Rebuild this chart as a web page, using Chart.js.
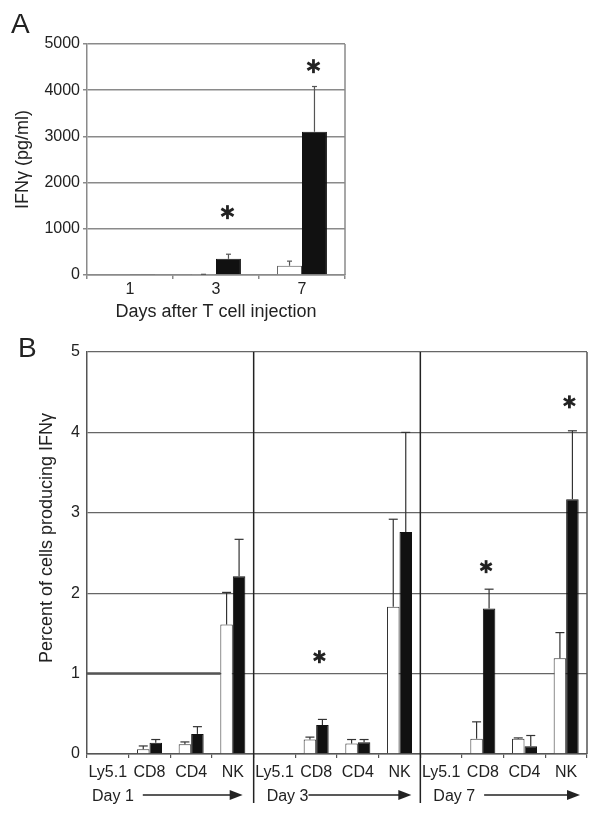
<!DOCTYPE html>
<html>
<head>
<meta charset="utf-8">
<script src="https://cdn.jsdelivr.net/npm/chart.js@4.4.0/dist/chart.umd.min.js"></script>
<style>
  body { margin: 0; background: #fff; }
  #wrap { position: relative; width: 604px; height: 819px; }
  canvas { position: absolute; left: 0; }
  #chartA { top: 0; }
  #chartB { top: 330px; }
</style>
</head>
<body>
<div id="wrap">
  <canvas id="chartA" width="604" height="330"></canvas>
  <canvas id="chartB" width="604" height="489"></canvas>
</div>
<script>
// Panel A: IFNy in serum (pg/ml)
const daysA = ["1", "3", "7"];
const controlA = [0, 10, 200];
const controlSdA = [0, 5, 100];
const treatedA = [10, 350, 3100];
const treatedSdA = [0, 100, 980];
const starsA = [null, 1360, 4520];

// Panel B: percent of cells producing IFNy
const cellTypes = ["Ly5.1", "CD8", "CD4", "NK"];
const dayGroups = ["Day 1", "Day 3", "Day 7"];
const labelsB = dayGroups.flatMap(() => cellTypes);
const controlB = [0, 0.06, 0.12, 1.61, 0, 0.18, 0.13, 1.83, 0, 0.19, 0.19, 1.19];
const controlSdB = [0, 0.04, 0.03, 0.40, 0, 0.03, 0.05, 1.09, 0, 0.21, 0.01, 0.32];
const treatedB = [0, 0.14, 0.25, 2.21, 0, 0.36, 0.145, 2.76, 0, 1.81, 0.095, 3.17];
const treatedSdB = [0, 0.04, 0.09, 0.46, 0, 0.07, 0.035, 1.24, 0, 0.24, 0.135, 0.85];
const starsB = [null, null, null, null, null, 1.21, null, null, null, 2.33, null, 4.38];

const FONT = "'Liberation Sans', Arial, sans-serif";
const TEXT = "#222";

function line(ctx, x1, y1, x2, y2) {
  ctx.beginPath();
  ctx.moveTo(x1, y1);
  ctx.lineTo(x2, y2);
  ctx.stroke();
}

function drawStar(ctx, x, y, r) {
  ctx.save();
  ctx.strokeStyle = TEXT;
  ctx.lineWidth = 2.8;
  for (let a = 90; a < 270; a += 60) {
    const t = a * Math.PI / 180;
    line(ctx, x - r * Math.cos(t), y - r * Math.sin(t), x + r * Math.cos(t), y + r * Math.sin(t));
  }
  ctx.restore();
}

// error bars, asterisks, panel letter, frame
const extras = {
  id: "extras",
  beforeDatasetsDraw(chart, args, opts) {
    if (opts.beforeBars) opts.beforeBars(chart);
  },
  afterDatasetsDraw(chart, args, opts) {
    const ctx = chart.ctx;
    const y = chart.scales.y;
    opts.errors.forEach((sd, di) => {
      const meta = chart.getDatasetMeta(di);
      const vals = chart.data.datasets[di].data;
      meta.data.forEach((bar, i) => {
        if (!sd[i]) return;
        const top = y.getPixelForValue(vals[i] + sd[i]);
        ctx.save();
        ctx.strokeStyle = opts.errColor;
        ctx.lineWidth = 1.2;
        line(ctx, bar.x, bar.y, bar.x, top);
        line(ctx, bar.x - opts.cap, top, bar.x + opts.cap, top);
        ctx.restore();
      });
    });
    const meta1 = chart.getDatasetMeta(1);
    opts.stars.forEach((v, i) => {
      if (v == null) return;
      drawStar(ctx, meta1.data[i].x + opts.starDx, y.getPixelForValue(v), opts.starR);
    });
  },
  afterDraw(chart, args, opts) {
    const ctx = chart.ctx;
    const area = chart.chartArea;
    ctx.save();
    ctx.strokeStyle = opts.frameColor;
    ctx.lineWidth = 1.5;
    line(ctx, area.right, area.top, area.right, area.bottom);
    ctx.fillStyle = TEXT;
    ctx.font = "28px " + FONT;
    ctx.textAlign = "left";
    ctx.textBaseline = "alphabetic";
    ctx.fillText(opts.letter, opts.letterX, opts.letterY);
    ctx.restore();
    if (opts.after) opts.after(chart);
  }
};

function arrow(ctx, x1, x2, y) {
  ctx.save();
  ctx.strokeStyle = TEXT;
  ctx.fillStyle = TEXT;
  ctx.lineWidth = 1.5;
  line(ctx, x1, y, x2 - 10, y);
  ctx.beginPath();
  ctx.moveTo(x2, y);
  ctx.lineTo(x2 - 13, y - 5);
  ctx.lineTo(x2 - 13, y + 5);
  ctx.closePath();
  ctx.fill();
  ctx.restore();
}

const chartA = new Chart(document.getElementById("chartA"), {
  type: "bar",
  data: {
    labels: daysA,
    datasets: [
      { data: controlA, backgroundColor: "#fff", borderColor: "#555", borderWidth: 1 },
      { data: treatedA, backgroundColor: "#111", borderColor: "#111", borderWidth: 1 }
    ]
  },
  options: {
    responsive: false,
    devicePixelRatio: 1,
    animation: false,
    categoryPercentage: 0.58,
    barPercentage: 1,
    layout: { padding: { left: 0, top: 44, right: 259, bottom: 0 } },
    plugins: {
      legend: { display: false },
      tooltip: { enabled: false },
      extras: {
        errors: [controlSdA, treatedSdA], errColor: "#555", cap: 2.5,
        stars: starsA, starDx: -1, starR: 7,
        frameColor: "#8a8a8a", letter: "A", letterX: 11, letterY: 33
      }
    },
    scales: {
      x: {
        afterFit: s => { s.height = 55; },
        grid: { drawOnChartArea: false, tickLength: 4, color: "#8a8a8a", lineWidth: 1.5 },
        border: { color: "#8a8a8a", width: 1.5 },
        ticks: { font: { family: FONT, size: 16 }, color: TEXT, padding: 1 },
        title: { display: true, text: "Days after T cell injection", font: { family: FONT, size: 18 }, color: TEXT, padding: { bottom: 7 } }
      },
      y: {
        min: 0, max: 5000,
        afterFit: s => { s.width = 87; },
        grid: { color: "#8a8a8a", lineWidth: 1.5, tickLength: 4 },
        border: { color: "#8a8a8a", width: 1.5 },
        ticks: { stepSize: 1000, font: { family: FONT, size: 16 }, color: TEXT, padding: 3, callback: v => String(v) },
        title: { display: true, text: "IFNγ (pg/ml)", font: { family: FONT, size: 18 }, color: TEXT, padding: { top: 12 } }
      }
    }
  },
  plugins: [extras]
});

const chartB = new Chart(document.getElementById("chartB"), {
  type: "bar",
  data: {
    labels: labelsB,
    datasets: [
      { data: controlB, backgroundColor: "#fff", borderColor: "#333", borderWidth: 1 },
      { data: treatedB, backgroundColor: "#111", borderColor: "#111", borderWidth: 1 }
    ]
  },
  options: {
    responsive: false,
    devicePixelRatio: 1,
    animation: false,
    categoryPercentage: 0.6,
    barPercentage: 1,
    layout: { padding: { left: 0, top: 22, right: 17, bottom: 0 } },
    plugins: {
      legend: { display: false },
      tooltip: { enabled: false },
      extras: {
        errors: [controlSdB, treatedSdB], errColor: "#333", cap: 4.5,
        stars: starsB, starDx: -3, starR: 6.5,
        frameColor: "#555", letter: "B", letterX: 18, letterY: 27,
        beforeBars(chart) {
          const ctx = chart.ctx;
          const y1 = chart.scales.y.getPixelForValue(1);
          const bar = chart.getDatasetMeta(0).data[3];
          ctx.save();
          ctx.strokeStyle = "#555";
          ctx.lineWidth = 2.5;
          line(ctx, chart.chartArea.left, y1, bar.x - bar.width / 2, y1);
          ctx.restore();
        },
        after(chart) {
          const ctx = chart.ctx;
          const x = chart.scales.x;
          const area = chart.chartArea;
          ctx.save();
          ctx.strokeStyle = TEXT;
          ctx.lineWidth = 1.5;
          [3.5, 7.5].forEach(v => {
            const px = x.getPixelForValue(v);
            line(ctx, px, area.top, px, 473);
          });
          ctx.font = "16px " + FONT;
          ctx.fillStyle = TEXT;
          ctx.textAlign = "left";
          ctx.textBaseline = "alphabetic";
          dayGroups.forEach((d, g) => {
            const left = x.getPixelForValue(g * 4 - 0.5);
            const right = x.getPixelForValue(g * 4 + 3.5);
            const tx = left + (g ? 13 : 5);
            ctx.fillText(d, tx, 471);
            const w = ctx.measureText(d).width;
            arrow(ctx, tx + w + (g === 1 ? 0 : 9), right - (g === 0 ? 11 : g === 1 ? 9 : 7), 465);
          });
          ctx.restore();
        }
      }
    },
    scales: {
      x: {
        afterFit: s => { s.height = 65; },
        grid: { drawOnChartArea: false, tickLength: 4, color: "#555", lineWidth: 1.2 },
        border: { color: "#555", width: 1.5 },
        ticks: { font: { family: FONT, size: 16 }, color: TEXT, padding: 5, autoSkip: false, maxRotation: 0 }
      },
      y: {
        min: 0, max: 5,
        afterFit: s => { s.width = 87; },
        grid: { color: "#666", lineWidth: 1.3, drawTicks: false },
        border: { color: "#555", width: 1.5 },
        ticks: { stepSize: 1, font: { family: FONT, size: 16 }, color: TEXT, padding: 7 },
        title: { display: true, text: "      Percent of cells producing IFNγ", font: { family: FONT, size: 18 }, color: TEXT, padding: { top: 36 } }
      }
    }
  },
  plugins: [extras]
});
</script>
</body>
</html>
